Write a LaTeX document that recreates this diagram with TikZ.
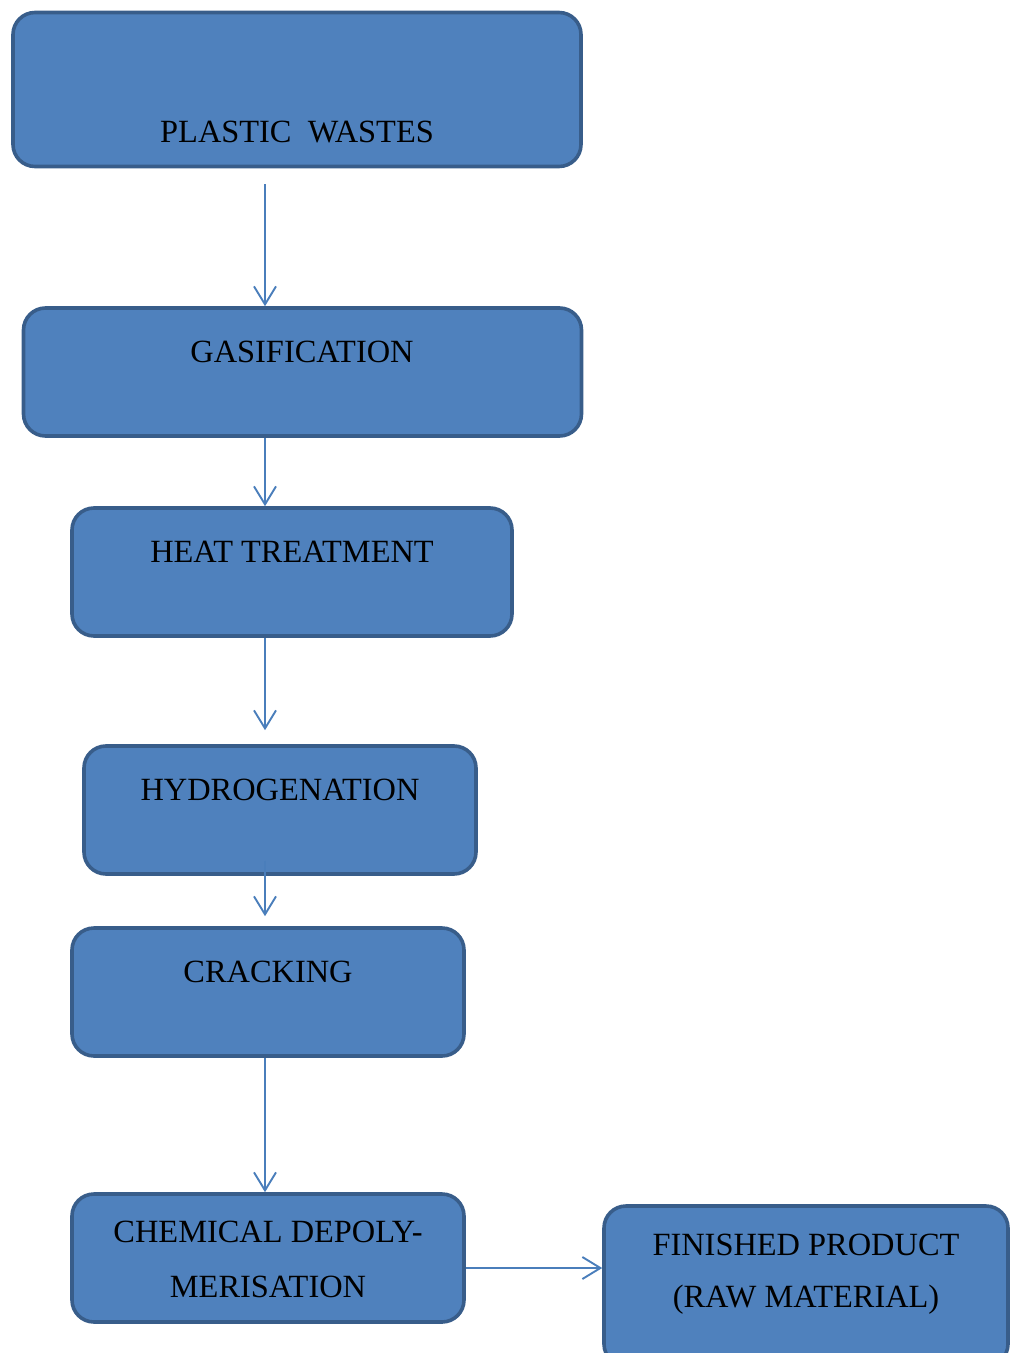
\documentclass[tikz,border=0pt]{standalone}
\usepackage{fontspec}
\setmainfont{Liberation Serif}
\usetikzlibrary{arrows.meta}

\definecolor{boxfill}{HTML}{4F81BD}
\definecolor{boxline}{HTML}{385D8A}
\definecolor{flowline}{HTML}{4A7EBB}

\tikzset{
	procbox/.style={draw=boxline, fill=boxfill, line width=1.8pt, rounded corners=11pt},
	boxtext/.style={font=\fontsize{16.2}{19}\selectfont, align=center, inner sep=0pt},
	flow/.style={draw=flowline, line width=0.95pt, -{Straight Barb[length=9pt,width=11pt,line width=0.95pt]}}
}

\begin{document}
\begin{tikzpicture}[x=0.5pt,y=-0.5pt]
		\useasboundingbox (0,0) rectangle (1009,1353);

		% Boxes
		\node[procbox, minimum width=284pt, minimum height=77pt] (plastic) at (297,89.5) {};
		\node[procbox, minimum width=279pt, minimum height=64pt] (gas) at (302.5,372) {};
		\node[procbox, minimum width=220pt, minimum height=64pt] (heat) at (292,572) {};
		\node[procbox, minimum width=196pt, minimum height=64pt] (hyd) at (280,810) {};
		\node[procbox, minimum width=196pt, minimum height=64pt] (crack) at (268,992) {};
		\node[procbox, minimum width=196pt, minimum height=64pt] (chem) at (268,1258) {};
		\node[procbox, minimum width=202pt, minimum height=80pt] (fin) at (806,1286) {};

		% Labels
		\node[boxtext] (plastictxt) at (297,132) {PLASTIC\ \ WASTES};
		\node[boxtext] (gastxt) at (302,352) {GASIFICATION};
		\node[boxtext] (heattxt) at (292,552) {HEAT TREATMENT};
		\node[boxtext] (hydtxt) at (280,790) {HYDROGENATION};
		\node[boxtext] (cracktxt) at (268,972) {CRACKING};
		\node[boxtext] (chemtxt) at (268,1232) {CHEMICAL DEPOLY-};
		\node[boxtext] (chemtxtb) at (268,1287) {MERISATION};
		\node[boxtext] (fintxt) at (806,1245) {FINISHED PRODUCT};
		\node[boxtext] (fintxtb) at (806,1300) {(RAW MATERIAL)};

		% Connecting arrows
		\coordinate (spine) at (265,0);
		\foreach \a/\b/\s/\e in {plastic/gas/8pt/0pt, gas/heat/0pt/0pt, heat/hyd/0pt/7pt, hyd/crack/-7.5pt/5pt, crack/chem/0pt/0pt} {
				\draw[flow, shorten <=\s, shorten >=\e] (\a.south -| spine) -- (\b.north -| spine);
			}
		\draw[flow] ([yshift=-5pt]chem.east) coordinate (out) -- (out -| fin.west);
	\end{tikzpicture}
\end{document}
